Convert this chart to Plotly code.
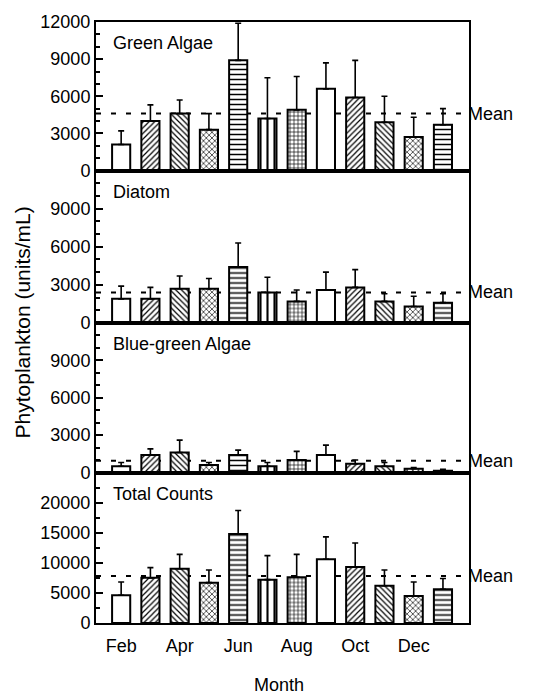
import plotly.graph_objects as go

# Monthly phytoplankton densities (units/mL): monthly means and standard deviations
months = ["Feb", "Mar", "Apr", "May", "Jun", "Jul", "Aug", "Sep", "Oct", "Nov", "Dec", "Jan"]
month_ticks = ["Feb", "Apr", "Jun", "Aug", "Oct", "Dec"]

green_algae = [2100, 4000, 4600, 3300, 8900, 4200, 4900, 6600, 5900, 3900, 2700, 3700]
green_algae_sd = [1100, 1300, 1100, 1300, 3000, 3300, 2700, 2100, 3000, 2100, 1600, 1300]

diatom = [1900, 1900, 2700, 2700, 4400, 2400, 1700, 2600, 2800, 1700, 1300, 1600]
diatom_sd = [1000, 900, 1000, 800, 1900, 1200, 900, 1400, 1400, 600, 800, 700]

blue_green = [500, 1400, 1600, 600, 1400, 500, 1000, 1400, 700, 500, 300, 150]
blue_green_sd = [300, 500, 1000, 200, 400, 300, 700, 800, 300, 300, 100, 100]

total_counts = [4600, 7500, 9000, 6700, 14800, 7200, 7600, 10600, 9300, 6200, 4500, 5600]
total_counts_sd = [2200, 1700, 2400, 2100, 3900, 4000, 3800, 3700, 4000, 2600, 2300, 1800]

panel_names = ["Green Algae", "Diatom", "Blue-green Algae", "Total Counts"]
panel_means = [4600, 2400, 950, 7800]

# fill pattern for each month (cycle of six)
patterns = ["", "/", "\\", "x", "-", "|", "+", "", "/", "\\", "x", "-"]
pattern_sizes = [6, 4, 4, 4, 5, 7, 4, 6, 4, 4, 4, 5]

FONT = "Liberation Sans, Arial, Helvetica, sans-serif"

panels = [
    (green_algae, green_algae_sd, [0, 12000], list(range(0, 12001, 3000)), 1000),
    (diatom, diatom_sd, [0, 12000], list(range(0, 9001, 3000)), 1000),
    (blue_green, blue_green_sd, [0, 12000], list(range(0, 9001, 3000)), 1000),
    (total_counts, total_counts_sd, [0, 25000], list(range(0, 20001, 5000)), 2500),
]

# vertical extent of each panel (paper coords, top panel first)
domains = [[0.7529, 1.0], [0.4992, 0.7529], [0.2504, 0.4992], [0.0, 0.2504]]

fig = go.Figure()
layout = dict(
    width=538, height=698,
    margin=dict(l=96, r=69, t=12, b=75),
    paper_bgcolor="white", plot_bgcolor="white",
    showlegend=False,
    bargap=0.38,
    font=dict(family=FONT, size=18, color="black"),
)

shapes = []
annotations = []

for i, (vals, sds, yrange, yticks, minor_step) in enumerate(panels):
    n = i + 1
    xname = "x" if n == 1 else f"x{n}"
    yname = "y" if n == 1 else f"y{n}"
    fig.add_trace(go.Bar(
        x=months, y=vals, xaxis=xname, yaxis=yname,
        marker=dict(
            color="white",
            line=dict(color="black", width=2),
            pattern=dict(shape=patterns, size=pattern_sizes, solidity=0.3,
                         fgcolor="black", bgcolor="white", fillmode="replace"),
        ),
        error_y=dict(type="data", symmetric=False, array=sds,
                     arrayminus=[0] * len(sds), color="black",
                     thickness=1.6, width=3),
    ))

    xkey = "xaxis" if n == 1 else f"xaxis{n}"
    ykey = "yaxis" if n == 1 else f"yaxis{n}"
    layout[xkey] = dict(
        domain=[0, 1], anchor=yname,
        type="category", categoryorder="array", categoryarray=months,
        range=[-0.86, 11.89],
        showline=True, mirror=True, linecolor="black", linewidth=2,
        showgrid=False, zeroline=False, ticks="",
        tickmode="array", tickvals=month_ticks,
        showticklabels=(n == 4), ticklabelstandoff=5,
        matches=None if n == 1 else "x",
    )
    layout[ykey] = dict(
        domain=domains[i], anchor=xname, range=yrange,
        showline=True, mirror=True, linecolor="black", linewidth=2,
        showgrid=False, zeroline=False,
        tickmode="array", tickvals=yticks, tickformat="d",
        ticks="inside", ticklen=7, tickwidth=2, tickcolor="black",
        minor=dict(ticks="inside", ticklen=4, tickwidth=1.5, tickcolor="black",
                   dtick=minor_step, tick0=0),
    )

    # dashed mean line across the panel
    shapes.append(dict(
        type="line", xref=f"{xname} domain", yref=yname,
        x0=0, x1=1, y0=panel_means[i], y1=panel_means[i],
        line=dict(color="black", width=2, dash="5px,10px"), layer="below",
    ))
    annotations.append(dict(
        text="Mean", xref="paper", yref=yname, x=1, y=panel_means[i],
        xanchor="left", yanchor="middle", showarrow=False, xshift=-3,
        font=dict(size=18),
    ))
    annotations.append(dict(
        text=panel_names[i], xref="paper", yref=f"{yname} domain",
        x=0.04, y=1, xanchor="left", yanchor="middle", yshift=-21,
        showarrow=False, font=dict(size=18),
    ))

annotations.append(dict(
    text="Phytoplankton (units/mL)", xref="paper", yref="paper",
    x=0, y=0.5, xshift=-74, xanchor="center", yanchor="middle",
    textangle=-90, showarrow=False, font=dict(size=21),
))
annotations.append(dict(
    text="Month", xref="paper", yref="paper",
    x=0.49, y=0, yshift=-62, xanchor="center", yanchor="middle",
    showarrow=False, font=dict(size=18),
))

layout["shapes"] = shapes
layout["annotations"] = annotations
fig.update_layout(**layout)

fig.write_html("out.html")
